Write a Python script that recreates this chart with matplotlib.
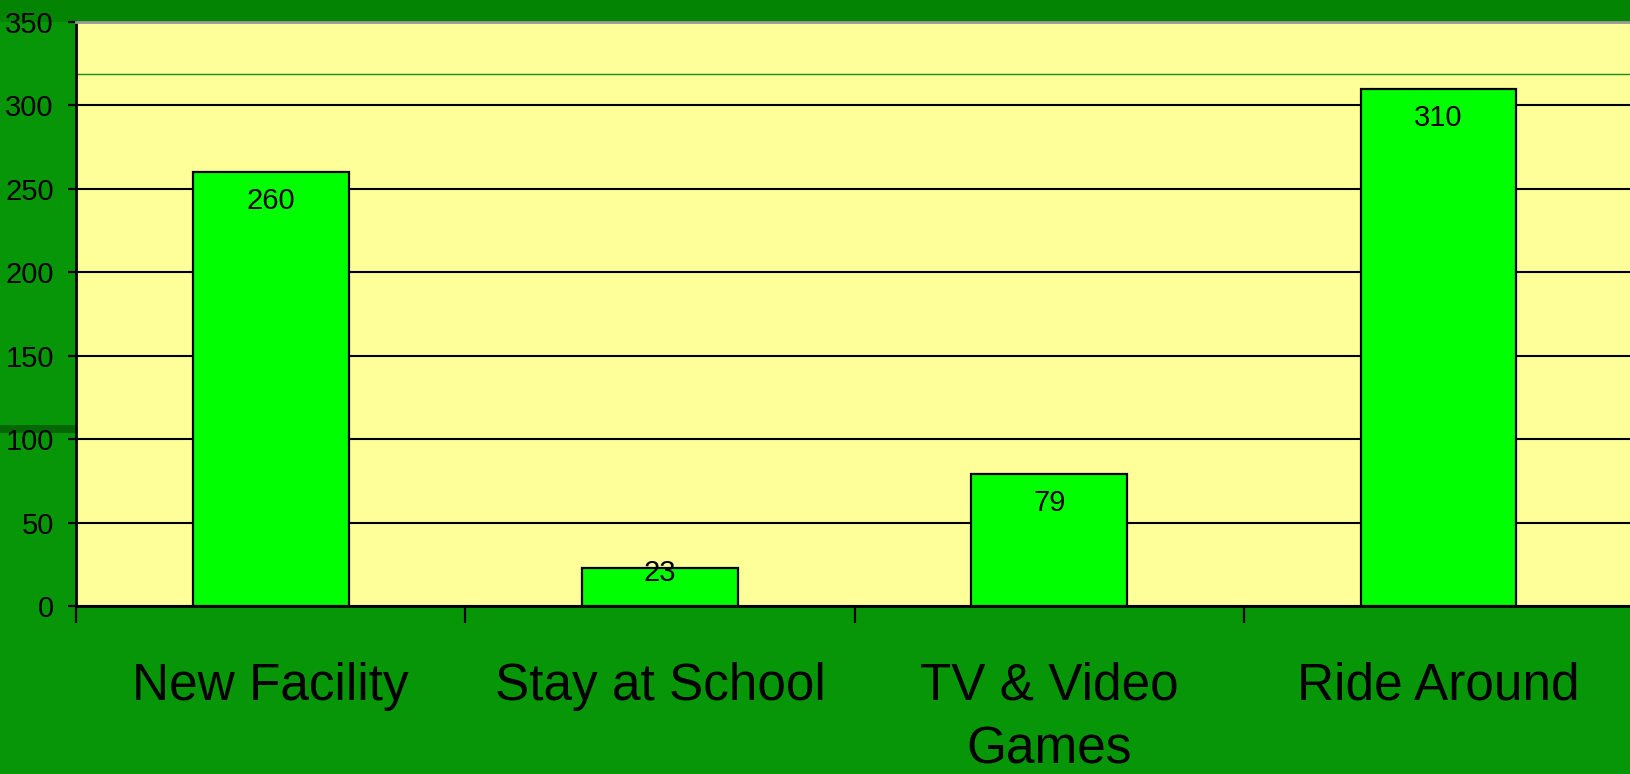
import matplotlib
matplotlib.use("Agg")
import matplotlib.pyplot as plt
from matplotlib.patches import Rectangle
from matplotlib import font_manager

categories = ["New Facility", "Stay at School", "TV & Video\nGames", "Ride Around"]
values = [260, 23, 79, 310]
y_ticks = [0, 50, 100, 150, 200, 250, 300, 350]
ref_line = 319

names = {f.name for f in font_manager.fontManager.ttflist}
fam = "Liberation Sans Narrow" if "Liberation Sans Narrow" in names else "Liberation Sans"
plt.rcParams['font.family'] = [fam, 'DejaVu Sans']

fig = plt.figure(figsize=(16.3, 7.74), dpi=100)
fig.patch.set_facecolor('#079607')
# darker top band and a dark stripe on the left
fig.patches.append(Rectangle((0, 1 - 22/774), 1, 22/774 + 0.01, transform=fig.transFigure,
                             facecolor='#038503', edgecolor='none', zorder=-2))
fig.patches.append(Rectangle((0, 1 - 433/774), 76/1630, 8/774, transform=fig.transFigure,
                             facecolor='#036803', edgecolor='none', zorder=-2))

ax = fig.add_axes([76/1630, 1 - 606/774, 1 - 76/1630 + 0.002, (606 - 22)/774])
ax.set_facecolor('#ffff99')

x = list(range(len(categories)))
bars = ax.bar(x, values, width=0.40, color='#00ff00', edgecolor='black', linewidth=1.6, zorder=3)

ax.set_xlim(-0.5, len(categories) - 0.5)
ax.set_ylim(0, 350)
ax.set_yticks(y_ticks)
ax.yaxis.grid(True, color='black', linewidth=1.5, zorder=1)
ax.set_axisbelow(True)
ax.axhline(ref_line, color='#1a8a1a', linewidth=1.0, zorder=2)

ax.set_xticks(x)
ax.set_xticklabels(categories, fontsize=37, linespacing=1.4)
ax.set_xticks([i - 0.5 for i in x], minor=True)
ax.tick_params(axis='x', which='major', length=0, pad=40)
ax.tick_params(axis='x', which='minor', length=12, width=1.6, color='black')
ax.tick_params(axis='y', length=6, width=1.6, pad=10, labelsize=21)

ax.spines['right'].set_visible(False)
ax.spines['top'].set_color('#999999')
ax.spines['top'].set_linewidth(2)
ax.spines['left'].set_linewidth(2)
ax.spines['bottom'].set_linewidth(2)

for b, v in zip(bars, values):
    off = -21 if v > 50 else -4
    ax.annotate(str(v), (b.get_x() + b.get_width()/2, v), xytext=(0, off),
                textcoords='offset points', ha='center', va='center',
                fontsize=21, zorder=4)

fig.savefig('out.png', dpi=100, facecolor=fig.get_facecolor())
